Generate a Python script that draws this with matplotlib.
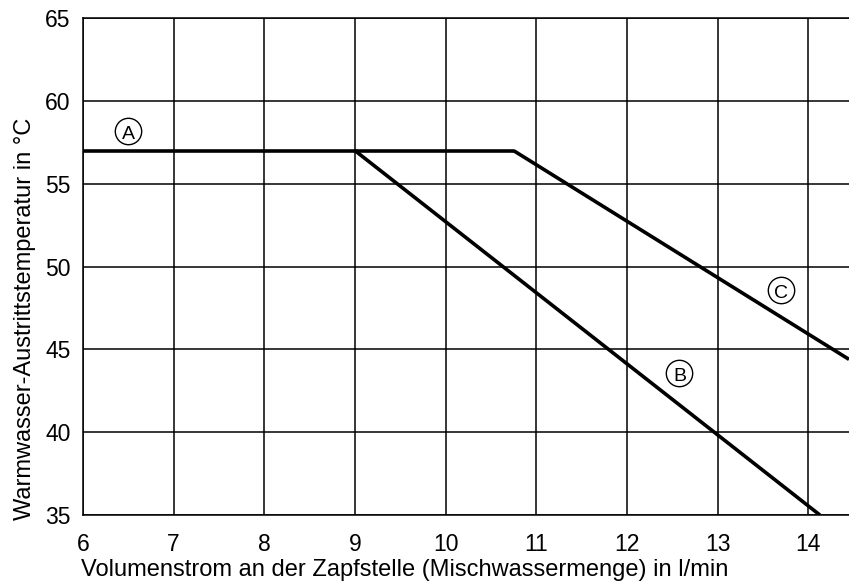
import matplotlib
matplotlib.use("Agg")
import matplotlib.pyplot as plt

# curve data
flow_a = [6.0, 10.75]
temp_a = [57.0, 57.0]
flow_b = [9.0, 14.13]
temp_b = [57.0, 35.0]
flow_c = [10.75, 14.45]
temp_c = [57.0, 44.4]

labels = ["A", "B", "C"]
label_x = [6.5, 12.58, 13.7]
label_y = [58.2, 43.6, 48.6]

x_ticks = [6, 7, 8, 9, 10, 11, 12, 13, 14]
y_ticks = [35, 40, 45, 50, 55, 60, 65]

plt.rcParams["font.family"] = ["Liberation Sans", "DejaVu Sans"]

fig = plt.figure(figsize=(8.49, 5.84), dpi=100)
ax = fig.add_axes([0.0978, 0.118, 0.9022, 0.851])

ax.plot(flow_a, temp_a, color="black", lw=2.6, solid_capstyle="butt")
ax.plot(flow_b, temp_b, color="black", lw=2.6, solid_capstyle="butt")
ax.plot(flow_c, temp_c, color="black", lw=2.6, solid_capstyle="butt")

# circled curve labels
ax.plot(label_x, label_y, ls="none", marker="o", ms=19, mfc="white",
        mec="black", mew=1.0, zorder=3)
for lab, lx, ly in zip(labels, label_x, label_y):
    ax.annotate(lab, (lx, ly), xytext=(0, -1.2), textcoords="offset points",
                ha="center", va="center_baseline", fontsize=14, zorder=4)

ax.set_xlim(6, 14.45)
ax.set_ylim(35, 65)
ax.set_xticks(x_ticks)
ax.set_yticks(y_ticks)
ax.grid(True, color="black", lw=1.1)
ax.set_axisbelow(True)
for side in ["left", "bottom", "top"]:
    ax.spines[side].set_linewidth(1.1)
ax.spines["right"].set_visible(False)
ax.tick_params(length=0, labelsize=16.5)
ax.tick_params(axis="x", pad=13)
ax.tick_params(axis="y", pad=9)

ax.set_xlabel("Volumenstrom an der Zapfstelle (Mischwassermenge) in l/min", fontsize=17)
ax.set_ylabel("Warmwasser-Austrittstemperatur in °C", fontsize=17)
ax.xaxis.set_label_coords(0.42, -0.088)
ax.yaxis.set_label_coords(-0.062, 0.394)

fig.savefig("out.png", dpi=100)
